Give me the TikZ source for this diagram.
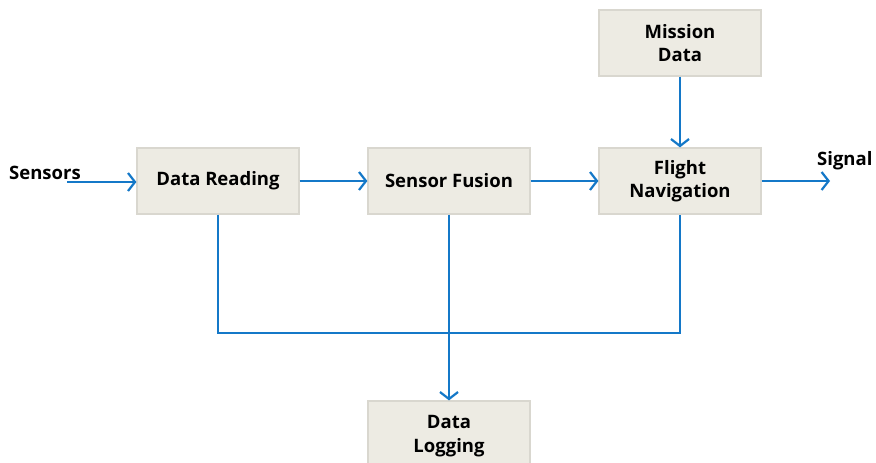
\documentclass[tikz,border=0pt]{standalone}
\usepackage{fontspec}
\setmainfont{Open Sans}
\usetikzlibrary{arrows.meta}
\definecolor{boxfill}{HTML}{EDEBE3}
\definecolor{boxline}{HTML}{D9D7CF}
\definecolor{flow}{HTML}{1478C8}
\tikzset{
  block/.style={draw=boxline, line width=1.2pt, fill=boxfill, minimum width=162pt, minimum height=66pt,
    align=center, font=\fontsize{18.5}{23.5}\selectfont\bfseries, inner sep=0pt},
  lbl/.style={font=\fontsize{18.5}{22}\selectfont\bfseries, inner sep=0pt},
  flowline/.style={draw=flow, line width=2.6pt},
  flowarrow/.style={flowline, -{Straight Barb[length=7pt,width=18pt,line width=2.2pt]}},
}
\begin{document}
\begin{tikzpicture}[x=1pt,y=-1pt]
\useasboundingbox (0,0) rectangle (876,463);
\clip (0,0) rectangle (876,463);
\fill[white] (0,0) rectangle (876,463);
\node[block] (dr) at (218,181) {Data Reading};
\node[block] (sf) at (449,181) {Sensor Fusion};
\node[block] (fn) at (680,181) {Flight\\Navigation};
\node[block] (md) at (680,43) {Mission\\Data};
\node[block, minimum height=70pt] (dl) at (449,436) {Data\\Logging};
\node[lbl, anchor=west] (sen) at (9,173) {Sensors};
\node[lbl, anchor=west] (sig) at (817,161) {Signal};
\coordinate (sin) at (67,182);
\coordinate (sout) at (830,181);
\draw[flowarrow] (sin) -- (dr.west |- sin);
\draw[flowarrow] (dr.east |- 0,181) -- (sf.west |- 0,181);
\draw[flowarrow] (sf.east |- 0,181) -- (fn.west |- 0,181);
\draw[flowarrow] (fn.east |- sout) -- (sout);
\draw[flowarrow] (md.south) -- (fn.north);
\draw[flowline] (dr.south) -- (dr.south |- 0,333) -| (fn.south);
\draw[flowarrow] (sf.south) -- (dl.north);
\end{tikzpicture}
\end{document}
